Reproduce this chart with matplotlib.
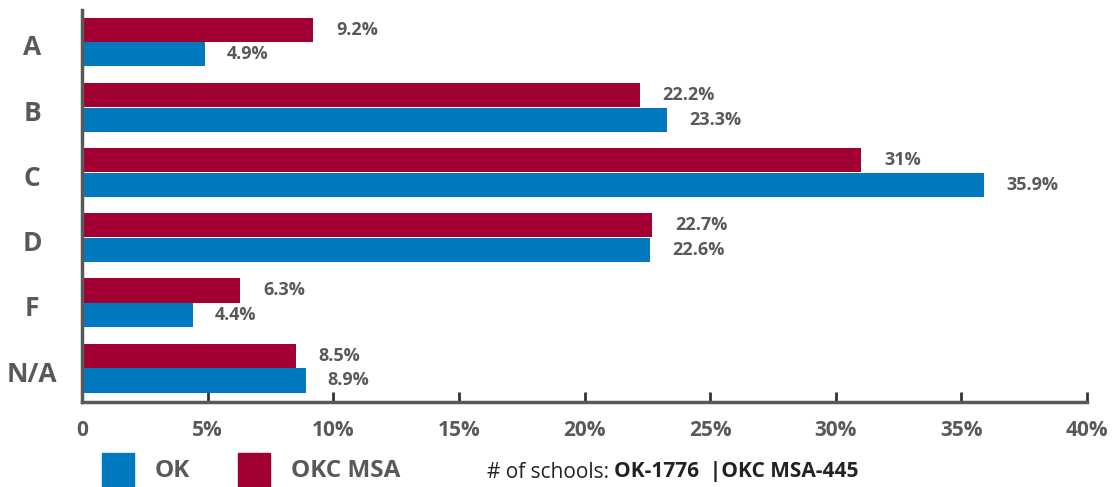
import matplotlib
matplotlib.use("Agg")
import matplotlib.pyplot as plt
from matplotlib.patches import Rectangle
from matplotlib.transforms import blended_transform_factory, offset_copy

categories = ["A", "B", "C", "D", "F", "N/A"]
ok_values = [4.9, 23.3, 35.9, 22.6, 4.4, 8.9]
msa_values = [9.2, 22.2, 31.0, 22.7, 6.3, 8.5]
ok_labels = ["4.9%", "23.3%", "35.9%", "22.6%", "4.4%", "8.9%"]
msa_labels = ["9.2%", "22.2%", "31%", "22.7%", "6.3%", "8.5%"]
xticks = [0, 5, 10, 15, 20, 25, 30, 35, 40]
xtick_labels = ["0", "5%", "10%", "15%", "20%", "25%", "30%", "35%", "40%"]

BLUE = "#0079c1"
RED = "#a20032"
GRAY = "#58595b"
FONT = ["Open Sans", "DejaVu Sans"]

plt.rcParams["font.family"] = FONT

W, H = 1115, 487
fig = plt.figure(figsize=(W / 100, H / 100), dpi=100)
ax = fig.add_axes([82 / W, 85 / H, (1087 - 82) / W, (402 - 10) / H])

bh = 0.37
off = 0.19
ypos = list(range(len(categories)))
ax.barh([y - off for y in ypos], msa_values, height=bh, color=RED, zorder=2)
ax.barh([y + off for y in ypos], ok_values, height=bh, color=BLUE, zorder=2)

for y, v, lab in zip(ypos, msa_values, msa_labels):
    ax.annotate(lab, (v, y - off), xytext=(23, 0), textcoords="offset pixels",
                ha="left", va="center", fontsize=13, fontweight="bold", color=GRAY)
for y, v, lab in zip(ypos, ok_values, ok_labels):
    ax.annotate(lab, (v, y + off), xytext=(22, 0), textcoords="offset pixels",
                ha="left", va="center", fontsize=13, fontweight="bold", color=GRAY)

ax.set_xlim(0, 40)
ax.set_ylim(5.52, -0.49)
ax.set_yticks(ypos)
ax.set_yticklabels([])
ax.tick_params(axis="y", length=0)
trans = blended_transform_factory(fig.transFigure, ax.transData)
trans = offset_copy(trans, fig=fig, x=0, y=-6, units="dots")
for y, c in zip(ypos, categories):
    fig.text(32 / W, y, c, transform=trans, ha="center", va="center",
             fontsize=19, fontweight="bold", color=GRAY)
ax.set_xticks(xticks)
ax.set_xticklabels(xtick_labels, fontsize=15, fontweight="bold", color=GRAY)
ax.tick_params(axis="x", direction="in", length=7, width=2, color="#333333", pad=13)

for s in ["top", "right"]:
    ax.spines[s].set_visible(False)
for s in ["left", "bottom"]:
    ax.spines[s].set_color(GRAY)
    ax.spines[s].set_linewidth(2.5)

# legend
fig.patches.append(Rectangle((102 / W, 0), 32 / W, 34 / H, transform=fig.transFigure,
                             color=BLUE, figure=fig))
fig.patches.append(Rectangle((238 / W, 0), 32 / W, 34 / H, transform=fig.transFigure,
                             color=RED, figure=fig))
fig.text(155 / W, 1 - 471 / H, "OK", fontsize=17.5, fontweight="bold", color=GRAY,
         ha="left", va="center")
fig.text(291 / W, 1 - 471 / H, "OKC MSA", fontsize=17.5, fontweight="bold", color=GRAY,
         ha="left", va="center")
t = fig.text(487 / W, 1 - 472 / H, "# of schools: ", fontsize=15, color="#222222",
             ha="left", va="center")
fig.canvas.draw()
bb = t.get_window_extent()
fig.text(bb.x1 / W, 1 - 472 / H, "OK-1776  |OKC MSA-445", fontsize=15,
         fontweight="bold", color="#222222", ha="left", va="center")

fig.savefig("out.png", dpi=100)
